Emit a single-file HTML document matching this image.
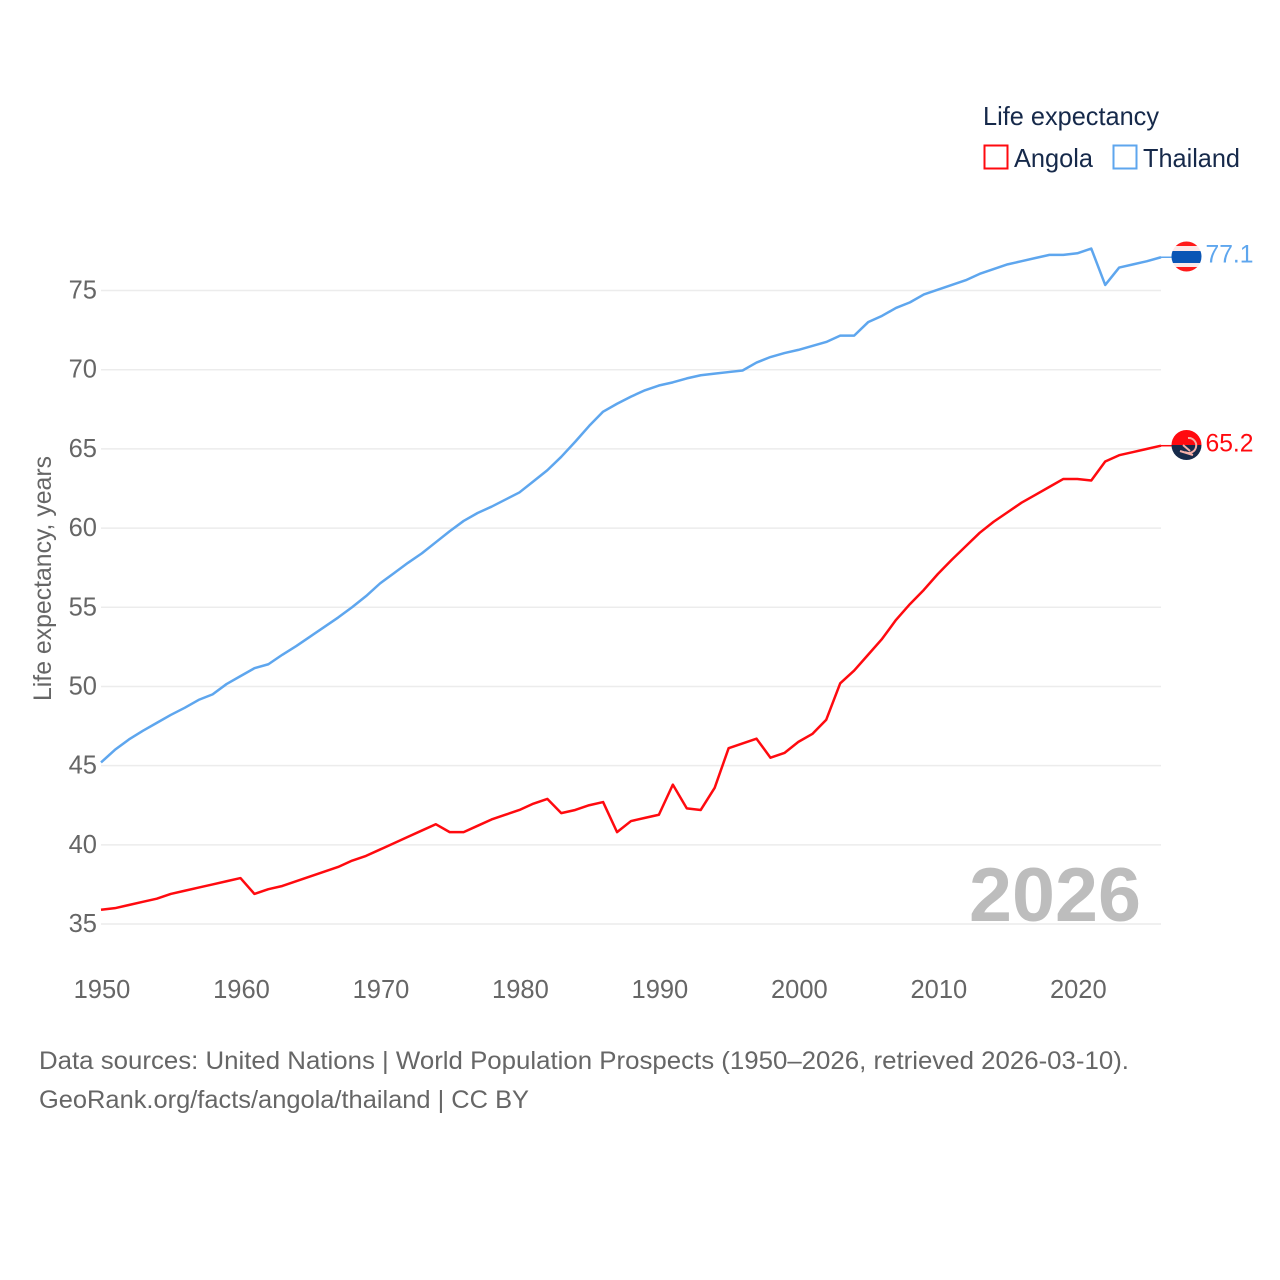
<!DOCTYPE html>
<html lang="en">
<head>
<meta charset="utf-8">
<title>Life expectancy: Angola and Thailand</title>
<style>
html,body{margin:0;padding:0;background:#fff;}
svg{display:block;font-family:"Liberation Sans",sans-serif;}
</style>
</head>
<body>
<svg id="chart" width="1280" height="1280" viewBox="0 0 1280 1280" xmlns="http://www.w3.org/2000/svg">
  <defs>
    <clipPath id="clip-th"><circle cx="1186.5" cy="256.5" r="15"/></clipPath>
    <clipPath id="clip-ao"><circle cx="1186.5" cy="445" r="15"/></clipPath>
  </defs>
  <g id="grid"></g>
  <g id="yticks"></g>
  <g id="xticks"></g>
  <text transform="translate(51,578.5) rotate(-90)" text-anchor="middle" font-size="25" fill="#666" textLength="245" lengthAdjust="spacingAndGlyphs">Life expectancy, years</text>
  <text x="969" y="921" font-size="76" font-weight="700" fill="#bdbdbd" textLength="172" lengthAdjust="spacingAndGlyphs">2026</text>
  <g id="series"></g>

  <g clip-path="url(#clip-th)">
    <rect x="1170" y="240" width="34" height="6" fill="#ff1a1a"/>
    <rect x="1170" y="246" width="34" height="5" fill="#fbe9e9"/>
    <rect x="1170" y="251" width="34" height="12" fill="#0a55b5"/>
    <rect x="1170" y="263" width="34" height="4" fill="#fbe9e9"/>
    <rect x="1170" y="267" width="34" height="6" fill="#ff1a1a"/>
  </g>
  <g clip-path="url(#clip-ao)">
    <rect x="1170" y="429" width="34" height="16" fill="#ff0a0f"/>
    <rect x="1170" y="445" width="34" height="16" fill="#172a4a"/>
    <path d="M1188 438 a7.5 7.5 0 1 1 -3 14" fill="none" stroke="#f6b0a8" stroke-width="2"/>
    <path d="M1180 451 L1193 455 M1183 445 L1190 451" fill="none" stroke="#f6b0a8" stroke-width="2"/>
  </g>
  <text id="label-th" x="1205.500" y="262.500" font-size="25" fill="#5ea6ee" textLength="48" lengthAdjust="spacingAndGlyphs">77.1</text>
  <text id="label-ao" x="1205.500" y="451.500" font-size="25" fill="#ff0a0f" textLength="48" lengthAdjust="spacingAndGlyphs">65.2</text>

  <g>
    <text x="983" y="125" font-size="26" fill="#16294a" textLength="176" lengthAdjust="spacingAndGlyphs">Life expectancy</text>
    <rect x="984.500" y="145.500" width="23" height="23" fill="none" stroke="#ff0a0f" stroke-width="2"/>
    <text x="1014" y="167" font-size="26" fill="#16294a" textLength="79" lengthAdjust="spacingAndGlyphs">Angola</text>
    <rect x="1113.500" y="145.500" width="23" height="23" fill="none" stroke="#5ea6ee" stroke-width="2"/>
    <text x="1143" y="167" font-size="26" fill="#16294a" textLength="97" lengthAdjust="spacingAndGlyphs">Thailand</text>
  </g>

  <text x="39" y="1069" font-size="25" fill="#666" textLength="1090" lengthAdjust="spacingAndGlyphs">Data sources: United Nations | World Population Prospects (1950–2026, retrieved 2026-03-10).</text>
  <text x="39" y="1108" font-size="25" fill="#666" textLength="490" lengthAdjust="spacingAndGlyphs">GeoRank.org/facts/angola/thailand | CC BY</text>
</svg>
<script>
const startYear = 1950;
const endYear = 2026;
const yTickValues = [35, 40, 45, 50, 55, 60, 65, 70, 75];
const xTickValues = [1950, 1960, 1970, 1980, 1990, 2000, 2010, 2020];
const angolaValues = [
  35.9,36.0,36.2,36.4,36.6,36.9,37.1,37.3,37.5,37.7,
  37.9,36.9,37.2,37.4,37.7,38.0,38.3,38.6,39.0,39.3,
  39.7,40.1,40.5,40.9,41.3,40.8,40.8,41.2,41.6,41.9,
  42.2,42.6,42.9,42.0,42.2,42.5,42.7,40.8,41.5,41.7,
  41.9,43.8,42.3,42.2,43.6,46.1,46.4,46.7,45.5,45.8,
  46.5,47.0,47.9,50.2,51.0,52.0,53.0,54.2,55.2,56.1,
  57.1,58.0,58.85,59.7,60.4,61.0,61.6,62.1,62.6,63.1,
  63.1,63.0,64.2,64.6,64.8,65.0,65.2
];
const thailandValues = [
  45.2,46.0,46.65,47.2,47.7,48.2,48.65,49.15,49.5,50.15,
  50.65,51.15,51.4,52.0,52.55,53.15,53.75,54.35,55.0,55.7,
  56.5,57.15,57.8,58.4,59.1,59.8,60.45,60.95,61.35,61.8,
  62.25,62.95,63.65,64.5,65.45,66.45,67.35,67.85,68.3,68.7,
  69.0,69.2,69.45,69.65,69.75,69.85,69.95,70.45,70.8,71.05,
  71.25,71.5,71.75,72.15,72.15,73.0,73.4,73.9,74.25,74.75,
  75.05,75.35,75.65,76.05,76.35,76.65,76.85,77.05,77.25,77.25,
  77.35,77.65,75.35,76.45,76.65,76.85,77.1
];

const NS = 'http://www.w3.org/2000/svg';
function xScale(year) { return 101 + (year - startYear) * (1161 - 101) / (endYear - startYear); }
function yScale(value) { return 924 - (value - 35) * (924 - 290.5) / (75 - 35); }
function make(tag, attrs) {
  const el = document.createElementNS(NS, tag);
  for (const k in attrs) el.setAttribute(k, attrs[k]);
  return el;
}

const grid = document.getElementById('grid');
const yticks = document.getElementById('yticks');
const xticks = document.getElementById('xticks');
const seriesGroup = document.getElementById('series');

yTickValues.forEach(function (v) {
  const line = make('line', { x1: 101, x2: 1161, y1: yScale(v), y2: yScale(v), stroke: '#ececec', 'stroke-width': 1.5 });
  
  
  grid.appendChild(line);
  const label = make('text', { x: 97, y: yScale(v) + 8, 'text-anchor': 'end', 'font-size': 25.5, fill: '#666' });
  
  
  label.textContent = String(v);
  yticks.appendChild(label);
});

xTickValues.forEach(function (v) {
  const label = make('text', { x: xScale(v) + 1, y: 998, 'text-anchor': 'middle', 'font-size': 25.5, fill: '#666' });
  
  
  label.textContent = String(v);
  xticks.appendChild(label);
});

function drawSeries(values, color, name, flagX) {
  const pts = values.map(function (v, i) { return xScale(startYear + i).toFixed(2) + ',' + yScale(v).toFixed(2); }).join(' ');
  const line = make('polyline', { points: pts, fill: 'none', stroke: color, 'stroke-width': 2.5, 'stroke-linejoin': 'round' });
  
  
  seriesGroup.appendChild(line);
  const endValue = values[values.length - 1];
  const connector = make('line', { x1: xScale(endYear), x2: flagX, y1: yScale(endValue), y2: yScale(endValue), stroke: color, 'stroke-width': 1.5 });
  
  
  seriesGroup.appendChild(connector);
}
drawSeries(thailandValues, '#5ea6ee', 'thailand-line', 1172);
drawSeries(angolaValues, '#ff0a0f', 'angola-line', 1172);
</script>
</body>
</html>
